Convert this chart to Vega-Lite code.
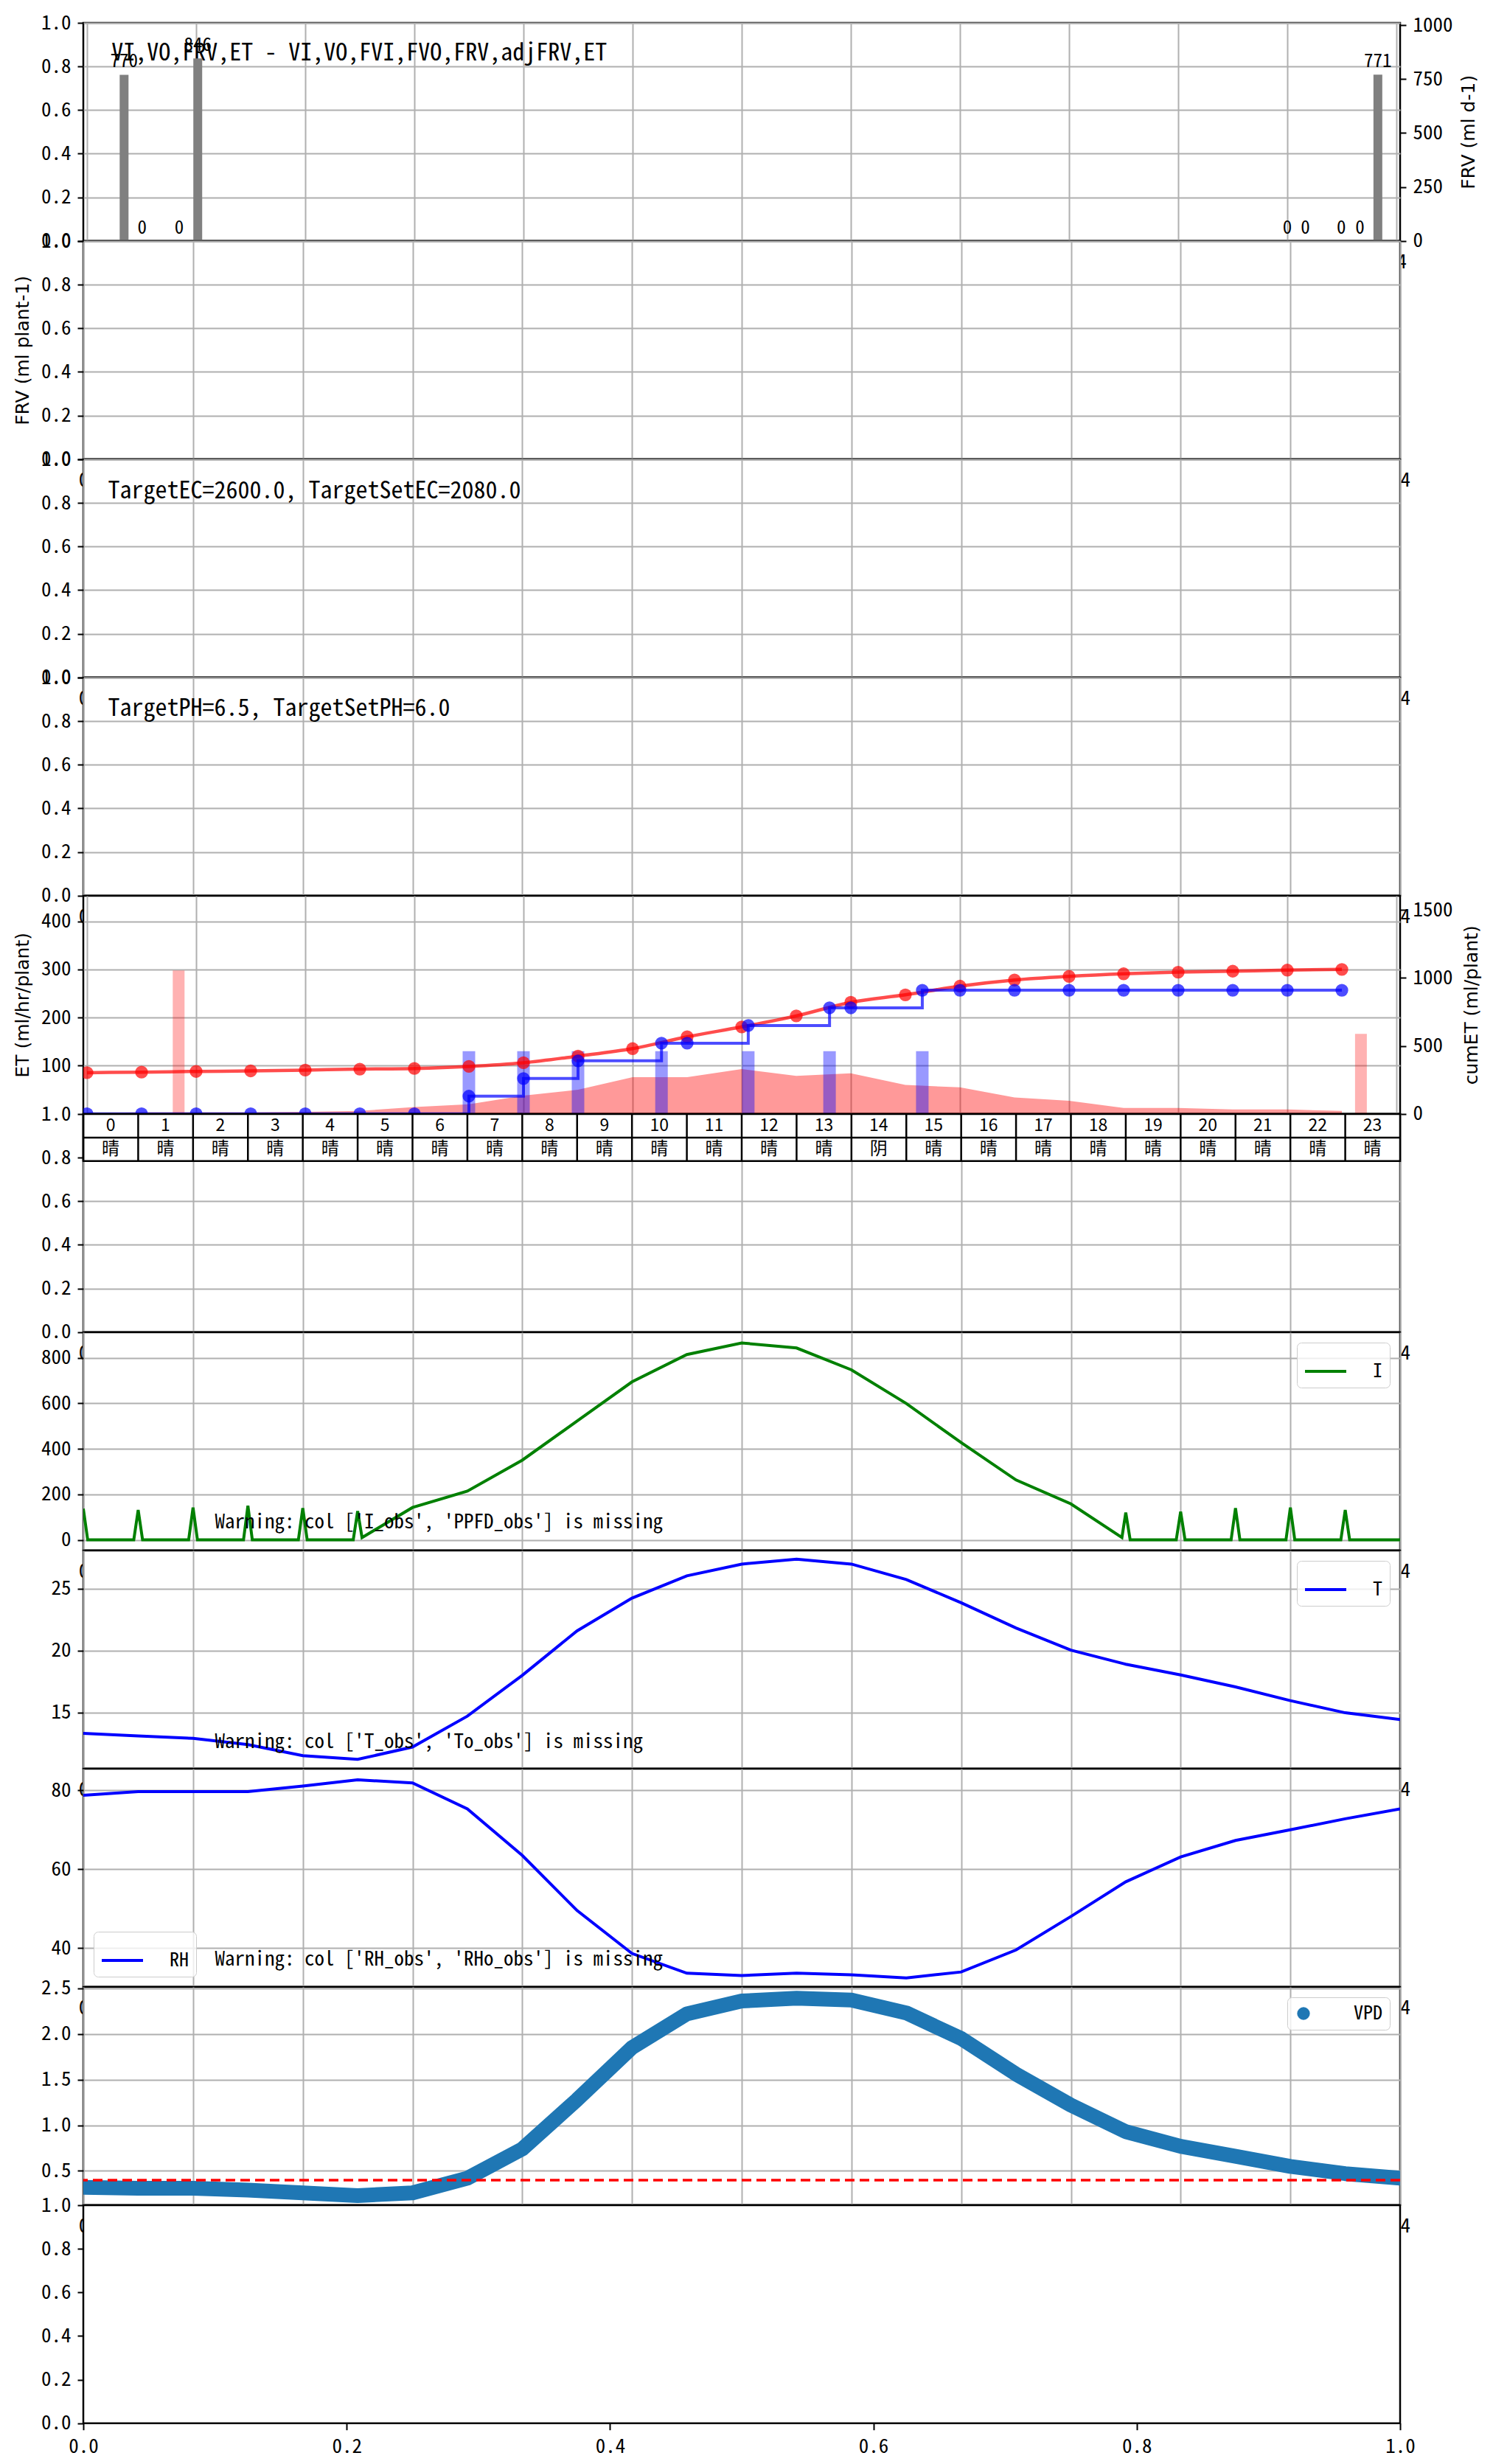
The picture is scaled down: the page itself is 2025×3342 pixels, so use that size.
{
  "$schema": "https://vega.github.io/schema/vega-lite/v6.json",
  "padding": {"left": 16, "top": 15, "right": 5, "bottom": 5},
  "background": "white",
  "spacing": 0,
  "bounds": "flush",
  "datasets": {
    "frv": [{"h":0.68,"v":770},{"h":1.01,"v":0},{"h":1.69,"v":0},{"h":2.03,"v":846},{"h":22.0,"v":0},{"h":22.33,"v":0},{"h":22.99,"v":0},{"h":23.33,"v":0},{"h":23.66,"v":771}],
    "et": [{"h":0,"v":2},{"h":1,"v":3},{"h":2,"v":3},{"h":3,"v":3},{"h":4,"v":4},{"h":5,"v":6},{"h":6,"v":14},{"h":7,"v":20},{"h":8,"v":38},{"h":9,"v":50},{"h":10,"v":76},{"h":11,"v":76},{"h":12,"v":93},{"h":13,"v":79},{"h":14,"v":84},{"h":15,"v":60},{"h":16,"v":55},{"h":17,"v":34},{"h":18,"v":27},{"h":19,"v":12},{"h":20,"v":12},{"h":21,"v":9},{"h":22,"v":9},{"h":23,"v":6}],
    "pink": [{"h":1.68,"v":298},{"h":23.35,"v":166}],
    "irr": [{"h":7.0,"v":130},{"h":8.0,"v":130},{"h":9.0,"v":130},{"h":10.53,"v":130},{"h":12.12,"v":130},{"h":13.61,"v":130},{"h":15.31,"v":130}],
    "cumet": [{"h":0,"v":303},{"h":1,"v":307},{"h":2,"v":312},{"h":3,"v":316},{"h":4,"v":322},{"h":5,"v":329},{"h":6,"v":334},{"h":7,"v":349},{"h":8,"v":376},{"h":9,"v":425},{"h":10,"v":480},{"h":11,"v":567},{"h":12,"v":640},{"h":13,"v":721},{"h":14,"v":821},{"h":15,"v":876},{"h":16,"v":940},{"h":17,"v":985},{"h":18,"v":1012},{"h":19,"v":1031},{"h":20,"v":1043},{"h":21,"v":1050},{"h":22,"v":1058},{"h":23,"v":1063}],
    "cumirr": [{"h":0,"v":0},{"h":1,"v":0},{"h":2,"v":0},{"h":3,"v":0},{"h":4,"v":0},{"h":5,"v":0},{"h":6,"v":0},{"h":7,"v":130},{"h":8,"v":260},{"h":9,"v":390},{"h":10.53,"v":520},{"h":11,"v":520},{"h":12.12,"v":650},{"h":13.61,"v":780},{"h":14,"v":780},{"h":15.31,"v":910},{"h":16,"v":910},{"h":17,"v":910},{"h":18,"v":910},{"h":19,"v":910},{"h":20,"v":910},{"h":21,"v":910},{"h":22,"v":910},{"h":23,"v":910}],
    "tbl": [{"h":0,"w":"晴"},{"h":1,"w":"晴"},{"h":2,"w":"晴"},{"h":3,"w":"晴"},{"h":4,"w":"晴"},{"h":5,"w":"晴"},{"h":6,"w":"晴"},{"h":7,"w":"晴"},{"h":8,"w":"晴"},{"h":9,"w":"晴"},{"h":10,"w":"晴"},{"h":11,"w":"晴"},{"h":12,"w":"晴"},{"h":13,"w":"晴"},{"h":14,"w":"阴"},{"h":15,"w":"晴"},{"h":16,"w":"晴"},{"h":17,"w":"晴"},{"h":18,"w":"晴"},{"h":19,"w":"晴"},{"h":20,"w":"晴"},{"h":21,"w":"晴"},{"h":22,"w":"晴"},{"h":23,"w":"晴"}],
    "ppfd": [{"h":0,"v":137},{"h":0.08,"v":0},{"h":0.92,"v":0},{"h":1,"v":131},{"h":1.08,"v":0},{"h":1.92,"v":0},{"h":2,"v":142},{"h":2.08,"v":0},{"h":2.92,"v":0},{"h":3,"v":150},{"h":3.08,"v":0},{"h":3.92,"v":0},{"h":4,"v":139},{"h":4.08,"v":0},{"h":4.92,"v":0},{"h":5,"v":126},{"h":5.08,"v":10},{"h":6,"v":142},{"h":7,"v":214},{"h":8,"v":350},{"h":9,"v":522},{"h":10,"v":694},{"h":11,"v":814},{"h":12,"v":865},{"h":13,"v":843},{"h":14,"v":747},{"h":15,"v":599},{"h":16,"v":427},{"h":17,"v":263},{"h":18,"v":158},{"h":18.93,"v":10},{"h":19,"v":120},{"h":19.08,"v":0},{"h":19.92,"v":0},{"h":20,"v":124},{"h":20.08,"v":0},{"h":20.92,"v":0},{"h":21,"v":139},{"h":21.08,"v":0},{"h":21.92,"v":0},{"h":22,"v":142},{"h":22.08,"v":0},{"h":22.92,"v":0},{"h":23,"v":131},{"h":23.08,"v":0},{"h":24,"v":0}],
    "temp": [{"h":0,"v":13.3},{"h":1,"v":13.1},{"h":2,"v":12.9},{"h":3,"v":12.4},{"h":4,"v":11.5},{"h":5,"v":11.2},{"h":6,"v":12.2},{"h":7,"v":14.7},{"h":8,"v":18.0},{"h":9,"v":21.6},{"h":10,"v":24.25},{"h":11,"v":26.05},{"h":12,"v":27.0},{"h":13,"v":27.4},{"h":14,"v":27.0},{"h":15,"v":25.75},{"h":16,"v":23.87},{"h":17,"v":21.83},{"h":18,"v":20.04},{"h":19,"v":18.9},{"h":20,"v":18.03},{"h":21,"v":17.06},{"h":22,"v":15.95},{"h":23,"v":14.97},{"h":24,"v":14.43}],
    "rh": [{"h":0,"v":78.75},{"h":1,"v":79.7},{"h":2,"v":79.7},{"h":3,"v":79.7},{"h":4,"v":81.1},{"h":5,"v":82.7},{"h":6,"v":81.9},{"h":7,"v":75.3},{"h":8,"v":63.5},{"h":9,"v":49.5},{"h":10,"v":38.6},{"h":11,"v":33.6},{"h":12,"v":33.0},{"h":13,"v":33.6},{"h":14,"v":33.2},{"h":15,"v":32.4},{"h":16,"v":33.9},{"h":17,"v":39.5},{"h":18,"v":48.0},{"h":19,"v":56.8},{"h":20,"v":63.1},{"h":21,"v":67.3},{"h":22,"v":70.0},{"h":23,"v":72.8},{"h":24,"v":75.3}],
    "vpd": [{"h":0,"v":0.32},{"h":1,"v":0.31},{"h":2,"v":0.31},{"h":3,"v":0.29},{"h":4,"v":0.26},{"h":5,"v":0.23},{"h":6,"v":0.26},{"h":7,"v":0.42},{"h":8,"v":0.74},{"h":9,"v":1.28},{"h":10,"v":1.85},{"h":11,"v":2.22},{"h":12,"v":2.36},{"h":13,"v":2.39},{"h":14,"v":2.37},{"h":15,"v":2.23},{"h":16,"v":1.95},{"h":17,"v":1.56},{"h":18,"v":1.22},{"h":19,"v":0.93},{"h":20,"v":0.77},{"h":21,"v":0.66},{"h":22,"v":0.55},{"h":23,"v":0.47},{"h":24,"v":0.42}]
  },
  "vconcat": [
    {
      "width": 1786, "height": 295.7,
      "layer": [
        {"data": {"values": [{"t": "VI,VO,FRV,ET - VI,VO,FVI,FVO,FRV,adjFRV,ET"}]},
         "mark": {"type": "text", "align": "left", "baseline": "middle", "fontSize": 32},
         "encoding": {
           "x": {"datum": 0.45, "scale": {"domain": [0, 24], "nice": false, "zero": false}, "axis": {"title": null, "format": "d", "values": [0,2,4,6,8,10,12,14,16,18,20,22,24], "labelExpr": "datum.value == 0 || datum.value == 24 ? datum.label : ''"}},
           "y": {"datum": 0.86, "scale": {"domain": [0, 1], "nice": false, "zero": false}, "axis": {"title": null, "values": [0,0.2,0.4,0.6,0.8,1], "format": ".1f"}},
           "text": {"field": "t"}}},
        {"data": {"name": "frv"},
         "encoding": {
           "x": {"field": "h", "type": "quantitative", "scale": {"domain": [0, 24], "nice": false, "zero": false}, "axis": {"title": null, "format": "d", "values": [0,2,4,6,8,10,12,14,16,18,20,22,24], "labelExpr": "datum.value == 0 || datum.value == 24 ? datum.label : ''"}},
           "y": {"field": "v", "type": "quantitative", "scale": {"domain": [0, 1011], "nice": false, "zero": false}, "axis": {"orient": "right", "grid": false, "values": [0,250,500,750,1000], "format": "d", "title": "FRV (ml d-1)", "titleAngle": 270, "titleX": 92, "titleBaseline": "middle"}}},
         "layer": [
           {"mark": {"type": "bar", "color": "#808080", "size": 12}},
           {"mark": {"type": "text", "baseline": "bottom", "dy": -5, "fontSize": 25}, "encoding": {"text": {"field": "v", "type": "quantitative", "format": "d"}}}
         ]}
      ],
      "resolve": {"scale": {"y": "independent"}}
    },
    {
      "width": 1786, "height": 295.7,
      "data": {"values": [{}]},
      "mark": {"type": "point", "opacity": 0},
      "encoding": {
        "x": {"datum": 0, "scale": {"domain": [0, 24], "nice": false, "zero": false}, "axis": {"title": null, "format": "d", "values": [0,2,4,6,8,10,12,14,16,18,20,22,24], "labelExpr": "datum.value == 0 || datum.value == 24 ? datum.label : ''"}},
        "y": {"datum": 0, "scale": {"domain": [0, 1], "nice": false, "zero": false}, "axis": {"title": "FRV (ml plant-1)", "titleX": -83, "titleBaseline": "middle", "values": [0,0.2,0.4,0.6,0.8,1], "format": ".1f"}}
      }
    },
    {
      "width": 1786, "height": 295.7,
      "data": {"values": [{"t": "TargetEC=2600.0, TargetSetEC=2080.0"}]},
      "mark": {"type": "text", "align": "left", "baseline": "middle", "fontSize": 32},
      "encoding": {
        "x": {"datum": 0.45, "scale": {"domain": [0, 24], "nice": false, "zero": false}, "axis": {"title": null, "format": "d", "values": [0,2,4,6,8,10,12,14,16,18,20,22,24], "labelExpr": "datum.value == 0 || datum.value == 24 ? datum.label : ''"}},
        "y": {"datum": 0.856, "scale": {"domain": [0, 1], "nice": false, "zero": false}, "axis": {"title": null, "values": [0,0.2,0.4,0.6,0.8,1], "format": ".1f"}},
        "text": {"field": "t"}
      }
    },
    {
      "width": 1786, "height": 295.7,
      "data": {"values": [{"t": "TargetPH=6.5, TargetSetPH=6.0"}]},
      "mark": {"type": "text", "align": "left", "baseline": "middle", "fontSize": 32},
      "encoding": {
        "x": {"datum": 0.45, "scale": {"domain": [0, 24], "nice": false, "zero": false}, "axis": {"title": null, "format": "d", "values": [0,2,4,6,8,10,12,14,16,18,20,22,24], "labelExpr": "datum.value == 0 || datum.value == 24 ? datum.label : ''"}},
        "y": {"datum": 0.858, "scale": {"domain": [0, 1], "nice": false, "zero": false}, "axis": {"title": null, "values": [0,0.2,0.4,0.6,0.8,1], "format": ".1f"}},
        "text": {"field": "t"}
      }
    },
    {
      "width": 1786, "height": 295.7,
      "layer": [
        {
          "encoding": {
            "x": {"field": "h", "type": "quantitative", "scale": {"domain": [0, 24], "nice": false, "zero": false}, "axis": {"title": null, "format": "d", "values": [0,2,4,6,8,10,12,14,16,18,20,22,24], "labelExpr": "datum.value == 0 ? datum.label : ''"}},
            "y": {"field": "v", "type": "quantitative", "scale": {"domain": [0, 453], "nice": false, "zero": false}, "axis": {"title": "ET (ml/hr/plant)", "titleX": -83, "titleBaseline": "middle", "values": [100,200,300,400], "format": "d"}}
          },
          "layer": [
            {"data": {"name": "et"}, "mark": {"type": "area", "color": "red", "opacity": 0.4, "clip": true}},
            {"data": {"name": "pink"}, "mark": {"type": "bar", "color": "red", "opacity": 0.3, "size": 16}},
            {"data": {"name": "irr"}, "mark": {"type": "bar", "color": "blue", "opacity": 0.4, "size": 17}},
            {"data": {"values": [{"t": "ByWoFv @D29 03:21: ET=771 Fg=910.0 Ro=3.0"}]},
             "mark": {"type": "text", "align": "left", "baseline": "middle", "fontSize": 32},
             "encoding": {"x": {"datum": 0.48}, "y": {"datum": 298}, "text": {"field": "t"}}},
            {"data": {"values": [{}]},
             "mark": {"type": "rule", "color": "red", "strokeWidth": 3.5, "strokeDash": [11, 5]},
             "encoding": {"x": {"datum": 3.35}, "y": {"datum": 0}, "y2": {"datum": 453}}}
          ]
        },
        {
          "encoding": {
            "x": {"field": "h", "type": "quantitative", "scale": {"domain": [0, 24], "nice": false, "zero": false}, "axis": {"title": null, "format": "d", "values": [0,2,4,6,8,10,12,14,16,18,20,22,24], "labelExpr": "datum.value == 0 ? datum.label : ''"}},
            "y": {"field": "v", "type": "quantitative", "scale": {"domain": [0, 1605], "nice": false, "zero": false}, "axis": {"orient": "right", "grid": false, "values": [0,500,1000,1500], "format": "d", "title": "cumET (ml/plant)", "titleAngle": 270, "titleX": 96, "titleBaseline": "middle"}}
          },
          "layer": [
            {"data": {"name": "cumet"}, "mark": {"type": "line", "color": "red", "opacity": 0.7, "strokeWidth": 4.5, "interpolate": "monotone", "clip": true}},
            {"data": {"name": "cumet"}, "mark": {"type": "circle", "color": "red", "opacity": 0.7, "size": 300, "clip": true}},
            {"data": {"name": "cumirr"}, "mark": {"type": "line", "color": "blue", "opacity": 0.7, "strokeWidth": 4, "interpolate": "step-after", "clip": true}},
            {"data": {"name": "cumirr"}, "mark": {"type": "circle", "color": "blue", "opacity": 0.7, "size": 300, "clip": true}}
          ]
        }
      ],
      "resolve": {"scale": {"y": "independent"}}
    },
    {
      "width": 1786, "height": 295.7,
      "layer": [
        {"data": {"values": [{}]},
         "mark": {"type": "rect", "fill": "white", "stroke": "black", "strokeWidth": 2.5},
         "encoding": {
           "x": {"datum": 0, "scale": {"domain": [0, 24], "nice": false, "zero": false}, "axis": {"title": null, "format": "d", "values": [0,2,4,6,8,10,12,14,16,18,20,22,24], "labelExpr": "datum.value == 0 || datum.value == 24 ? datum.label : ''"}},
           "x2": {"datum": 24},
           "y": {"datum": 1, "scale": {"domain": [0, 1], "nice": false, "zero": false}, "axis": {"title": null, "values": [0,0.2,0.4,0.6,0.8,1], "format": ".1f"}},
           "y2": {"datum": 0.784}}},
        {"data": {"name": "tbl"},
         "mark": {"type": "rule", "color": "black", "strokeWidth": 2.5},
         "encoding": {"x": {"field": "h", "type": "quantitative"}, "y": {"datum": 1}, "y2": {"datum": 0.784}}},
        {"data": {"values": [{}]},
         "mark": {"type": "rule", "color": "black", "strokeWidth": 2.5},
         "encoding": {"x": {"datum": 0}, "x2": {"datum": 24}, "y": {"datum": 0.892}}},
        {"data": {"name": "tbl"},
         "mark": {"type": "text", "dx": 37, "baseline": "middle", "font": "Noto Sans CJK SC", "fontSize": 23},
         "encoding": {"x": {"field": "h", "type": "quantitative"}, "y": {"datum": 0.946}, "text": {"field": "h", "type": "quantitative"}}},
        {"data": {"name": "tbl"},
         "mark": {"type": "text", "dx": 37, "baseline": "middle", "font": "Noto Sans CJK SC", "fontSize": 24},
         "encoding": {"x": {"field": "h", "type": "quantitative"}, "y": {"datum": 0.838}, "text": {"field": "w"}}}
      ]
    },
    {
      "width": 1786, "height": 295.7,
      "layer": [
        {"data": {"name": "ppfd"},
         "mark": {"type": "line", "strokeWidth": 4, "clip": true},
         "encoding": {
           "x": {"field": "h", "type": "quantitative", "scale": {"domain": [0, 24], "nice": false, "zero": false}, "axis": {"title": null, "format": "d", "values": [0,2,4,6,8,10,12,14,16,18,20,22,24], "labelExpr": "datum.value == 0 || datum.value == 24 ? datum.label : ''"}},
           "y": {"field": "v", "type": "quantitative", "scale": {"domain": [-46, 912], "nice": false, "zero": false}, "axis": {"title": null, "values": [0,200,400,600,800], "format": "d"}},
           "color": {"datum": "I", "scale": {"domain": ["I"], "range": ["green"]}, "legend": {"title": null}}}},
        {"data": {"values": [{"t": "Warning: col ['I_obs', 'PPFD_obs'] is missing"}]},
         "mark": {"type": "text", "align": "left", "baseline": "middle", "fontSize": 27},
         "encoding": {"x": {"datum": 2.4}, "y": {"datum": 77}, "text": {"field": "t"}}}
      ]
    },
    {
      "width": 1786, "height": 295.7,
      "layer": [
        {"data": {"name": "temp"},
         "mark": {"type": "line", "strokeWidth": 4, "clip": true},
         "encoding": {
           "x": {"field": "h", "type": "quantitative", "scale": {"domain": [0, 24], "nice": false, "zero": false}, "axis": {"title": null, "format": "d", "values": [0,2,4,6,8,10,12,14,16,18,20,22,24], "labelExpr": "datum.value == 0 || datum.value == 24 ? datum.label : ''"}},
           "y": {"field": "v", "type": "quantitative", "scale": {"domain": [10.46, 28.1], "nice": false, "zero": false}, "axis": {"title": null, "values": [15,20,25], "format": "d"}},
           "color": {"datum": "T", "scale": {"domain": ["T"], "range": ["blue"]}, "legend": {"title": null}}}},
        {"data": {"values": [{"t": "Warning: col ['T_obs', 'To_obs'] is missing"}]},
         "mark": {"type": "text", "align": "left", "baseline": "middle", "fontSize": 27},
         "encoding": {"x": {"datum": 2.4}, "y": {"datum": 12.6}, "text": {"field": "t"}}}
      ]
    },
    {
      "width": 1786, "height": 295.7,
      "layer": [
        {"data": {"name": "rh"},
         "mark": {"type": "line", "strokeWidth": 4, "clip": true},
         "encoding": {
           "x": {"field": "h", "type": "quantitative", "scale": {"domain": [0, 24], "nice": false, "zero": false}, "axis": {"title": null, "format": "d", "values": [0,2,4,6,8,10,12,14,16,18,20,22,24], "labelExpr": "datum.value == 0 || datum.value == 24 ? datum.label : ''"}},
           "y": {"field": "v", "type": "quantitative", "scale": {"domain": [30.15, 85.5], "nice": false, "zero": false}, "axis": {"title": null, "values": [40,60,80], "format": "d"}},
           "color": {"datum": "RH", "scale": {"domain": ["RH"], "range": ["blue"]}, "legend": {"title": null, "orient": "bottom-left"}}}},
        {"data": {"values": [{"t": "Warning: col ['RH_obs', 'RHo_obs'] is missing"}]},
         "mark": {"type": "text", "align": "left", "baseline": "middle", "fontSize": 27},
         "encoding": {"x": {"datum": 2.4}, "y": {"datum": 37.1}, "text": {"field": "t"}}}
      ]
    },
    {
      "width": 1786, "height": 295.7,
      "layer": [
        {"data": {"name": "vpd"},
         "mark": {"type": "line", "strokeWidth": 20, "strokeCap": "round", "strokeJoin": "round", "clip": true},
         "encoding": {
           "x": {"field": "h", "type": "quantitative", "scale": {"domain": [0, 24], "nice": false, "zero": false}, "axis": {"title": null, "format": "d", "values": [0,2,4,6,8,10,12,14,16,18,20,22,24], "labelExpr": "datum.value == 0 || datum.value == 24 ? datum.label : ''"}},
           "y": {"field": "v", "type": "quantitative", "scale": {"domain": [0.127, 2.514], "nice": false, "zero": false}, "axis": {"title": null, "values": [0.5,1,1.5,2,2.5], "format": ".1f"}},
           "color": {"datum": "VPD", "scale": {"domain": ["VPD"], "range": ["#1f77b4"]}, "legend": {"title": null, "symbolType": "circle", "symbolSize": 300, "symbolFillColor": "#1f77b4", "symbolStrokeColor": "#1f77b4", "symbolStrokeWidth": 0, "labelOffset": 55}}}},
        {"data": {"values": [{}]},
         "mark": {"type": "rule", "color": "red", "strokeWidth": 3.5, "strokeDash": [13, 7]},
         "encoding": {"y": {"datum": 0.4}}}
      ]
    },
    {
      "width": 1786, "height": 295.7,
      "data": {"values": [{}]},
      "mark": {"type": "point", "opacity": 0},
      "encoding": {
        "x": {"datum": 0, "scale": {"domain": [0, 1], "nice": false, "zero": false}, "axis": {"title": null, "values": [0,0.2,0.4,0.6,0.8,1], "format": ".1f", "grid": false, "ticks": true, "tickSize": 9, "labelPadding": 10}},
        "y": {"datum": 0, "scale": {"domain": [0, 1], "nice": false, "zero": false}, "axis": {"title": null, "values": [0,0.2,0.4,0.6,0.8,1], "format": ".1f", "grid": false}}
      }
    }
  ],
  "resolve": {"scale": {"x": "independent", "y": "independent", "color": "independent"}, "legend": {"color": "independent"}},
  "config": {
    "view": {"stroke": "black", "strokeWidth": 2.5, "fill": "white"},
    "text": {"font": "Noto Sans Mono CJK JP, DejaVu Sans Mono, monospace", "fontSize": 26, "color": "black"},
    "axis": {
      "labelFont": "Noto Sans Mono CJK JP, DejaVu Sans Mono, monospace", "labelFontSize": 27, "labelColor": "black",
      "tickColor": "black", "tickSize": 8, "tickWidth": 2, "labelPadding": 9, "domain": false,
      "gridColor": "#b0b0b0", "gridWidth": 2, "gridOpacity": 1,
      "titleFont": "DejaVu Sans", "titleFontSize": 25, "titleFontWeight": "normal", "titleColor": "black",
      "labelOverlap": false, "labelFlush": false
    },
    "axisX": {"grid": true, "ticks": false, "labelPadding": 16},
    "axisY": {"grid": true},
    "legend": {
      "orient": "top-right", "offset": 14, "padding": 9,
      "fillColor": "rgba(255,255,255,0.8)", "strokeColor": "#cccccc", "cornerRadius": 6,
      "labelFont": "Noto Sans Mono CJK JP, DejaVu Sans Mono, monospace", "labelFontSize": 26, "labelColor": "black",
      "symbolType": "stroke", "symbolSize": 3136, "symbolStrokeWidth": 4, "labelOffset": 34
    }
  }
}
